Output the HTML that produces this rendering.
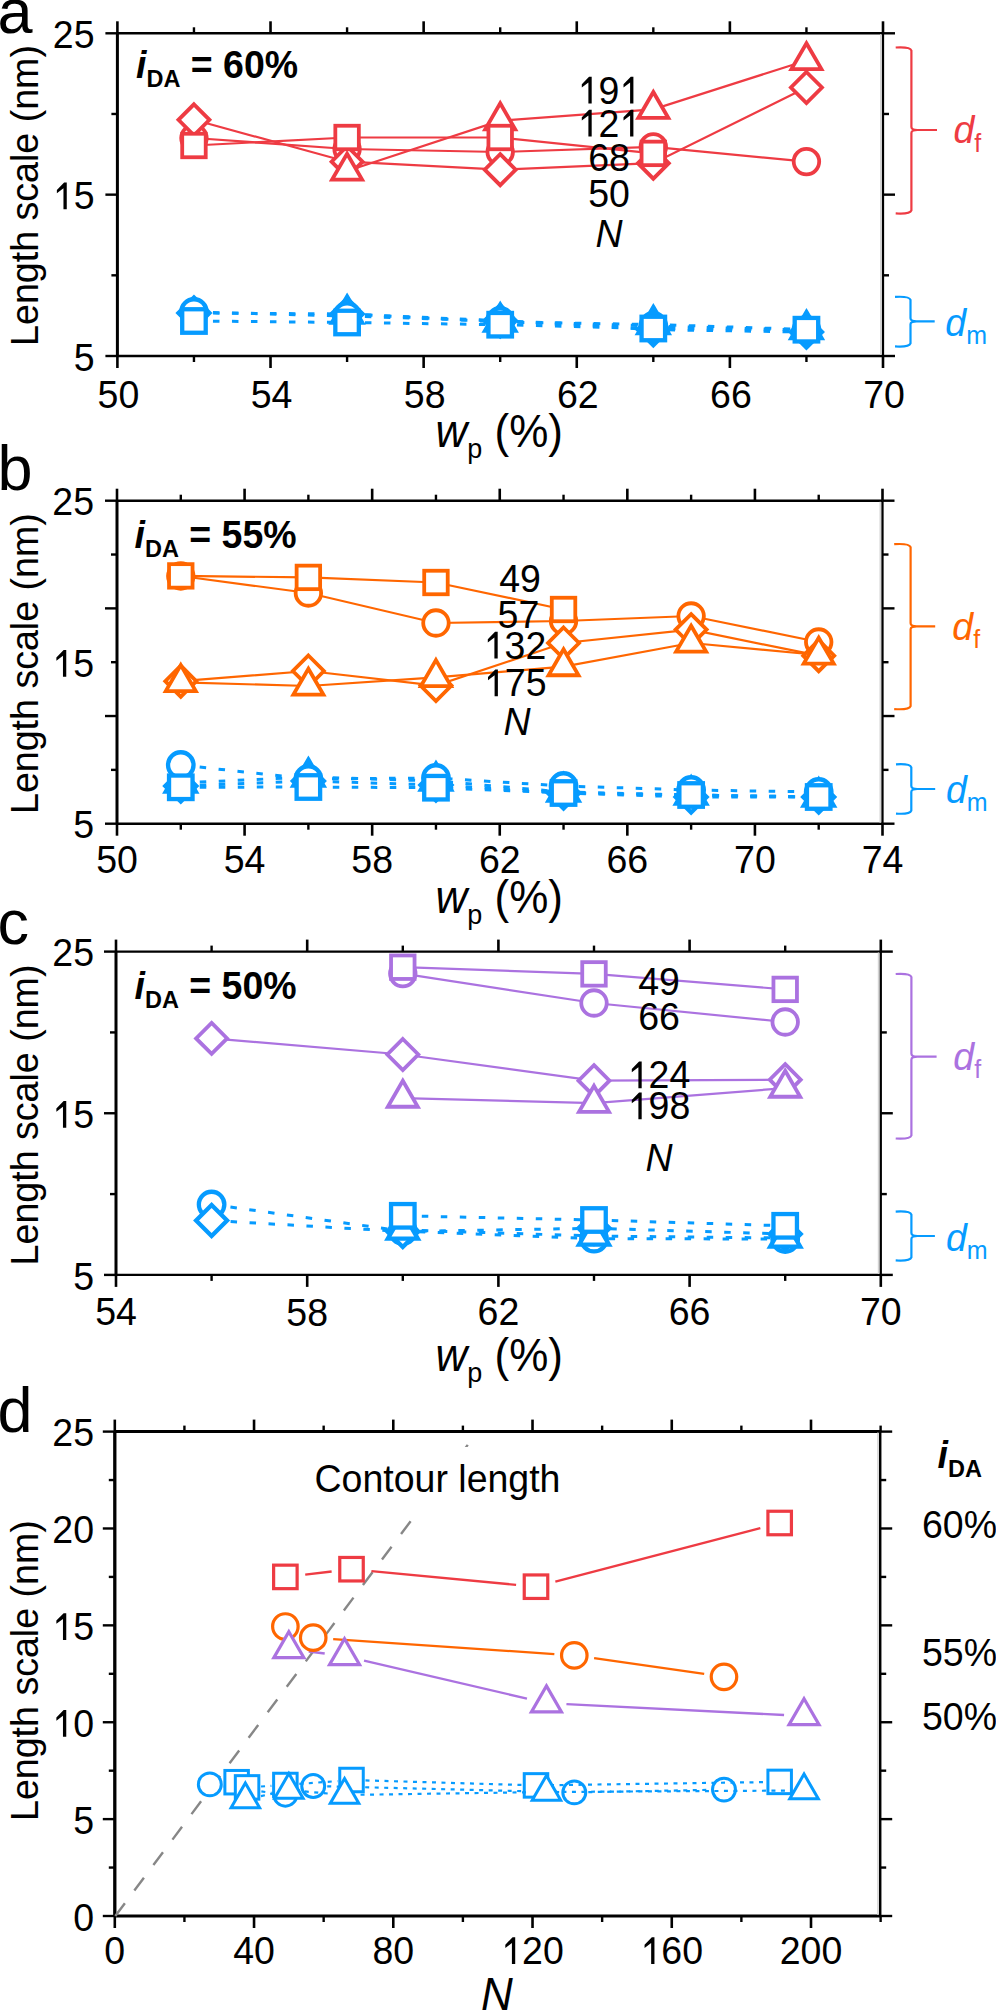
<!DOCTYPE html>
<html><head><meta charset="utf-8"><title>Length scale figure</title>
<style>
html,body{margin:0;padding:0;background:#fff;}
body{width:996px;height:2010px;overflow:hidden;font-family:"Liberation Sans", sans-serif;}
svg{display:block;}
</style></head>
<body><svg width="996" height="2010" viewBox="0 0 996 2010" font-family='"Liberation Sans", sans-serif'><rect width="996" height="2010" fill="#fff"/><line x1="117.4" y1="33.3" x2="883.0" y2="33.3" stroke="#000" stroke-width="2.4"/><line x1="117.4" y1="356.0" x2="883.0" y2="356.0" stroke="#000" stroke-width="2.4"/><line x1="117.4" y1="33.3" x2="117.4" y2="356.0" stroke="#000" stroke-width="3.0"/><line x1="880.70" y1="34.3" x2="880.70" y2="355.0" stroke="#d4d4d4" stroke-width="1.4"/><line x1="883.0" y1="33.3" x2="883.0" y2="356.0" stroke="#000" stroke-width="2.25"/><line x1="117.40" y1="356.0" x2="117.40" y2="368.0" stroke="#000" stroke-width="2.6"/><line x1="117.40" y1="33.3" x2="117.40" y2="21.299999999999997" stroke="#000" stroke-width="2.6"/><line x1="193.96" y1="356.0" x2="193.96" y2="362.0" stroke="#000" stroke-width="2.4"/><line x1="193.96" y1="33.3" x2="193.96" y2="27.299999999999997" stroke="#000" stroke-width="2.4"/><line x1="270.52" y1="356.0" x2="270.52" y2="368.0" stroke="#000" stroke-width="2.6"/><line x1="270.52" y1="33.3" x2="270.52" y2="21.299999999999997" stroke="#000" stroke-width="2.6"/><line x1="347.08" y1="356.0" x2="347.08" y2="362.0" stroke="#000" stroke-width="2.4"/><line x1="347.08" y1="33.3" x2="347.08" y2="27.299999999999997" stroke="#000" stroke-width="2.4"/><line x1="423.64" y1="356.0" x2="423.64" y2="368.0" stroke="#000" stroke-width="2.6"/><line x1="423.64" y1="33.3" x2="423.64" y2="21.299999999999997" stroke="#000" stroke-width="2.6"/><line x1="500.20" y1="356.0" x2="500.20" y2="362.0" stroke="#000" stroke-width="2.4"/><line x1="500.20" y1="33.3" x2="500.20" y2="27.299999999999997" stroke="#000" stroke-width="2.4"/><line x1="576.76" y1="356.0" x2="576.76" y2="368.0" stroke="#000" stroke-width="2.6"/><line x1="576.76" y1="33.3" x2="576.76" y2="21.299999999999997" stroke="#000" stroke-width="2.6"/><line x1="653.32" y1="356.0" x2="653.32" y2="362.0" stroke="#000" stroke-width="2.4"/><line x1="653.32" y1="33.3" x2="653.32" y2="27.299999999999997" stroke="#000" stroke-width="2.4"/><line x1="729.88" y1="356.0" x2="729.88" y2="368.0" stroke="#000" stroke-width="2.6"/><line x1="729.88" y1="33.3" x2="729.88" y2="21.299999999999997" stroke="#000" stroke-width="2.6"/><line x1="806.44" y1="356.0" x2="806.44" y2="362.0" stroke="#000" stroke-width="2.4"/><line x1="806.44" y1="33.3" x2="806.44" y2="27.299999999999997" stroke="#000" stroke-width="2.4"/><line x1="883.00" y1="356.0" x2="883.00" y2="368.0" stroke="#000" stroke-width="2.6"/><line x1="883.00" y1="33.3" x2="883.00" y2="21.299999999999997" stroke="#000" stroke-width="2.6"/><line x1="117.4" y1="356.00" x2="105.4" y2="356.00" stroke="#000" stroke-width="2.4"/><line x1="117.4" y1="275.32" x2="111.4" y2="275.32" stroke="#000" stroke-width="2.4"/><line x1="117.4" y1="194.65" x2="105.4" y2="194.65" stroke="#000" stroke-width="2.4"/><line x1="117.4" y1="113.97" x2="111.4" y2="113.97" stroke="#000" stroke-width="2.4"/><line x1="117.4" y1="33.30" x2="105.4" y2="33.30" stroke="#000" stroke-width="2.4"/><line x1="883.0" y1="356.00" x2="895.0" y2="356.00" stroke="#000" stroke-width="2.4"/><line x1="883.0" y1="275.32" x2="889.0" y2="275.32" stroke="#000" stroke-width="2.4"/><line x1="883.0" y1="194.65" x2="895.0" y2="194.65" stroke="#000" stroke-width="2.4"/><line x1="883.0" y1="113.97" x2="889.0" y2="113.97" stroke="#000" stroke-width="2.4"/><line x1="883.0" y1="33.30" x2="895.0" y2="33.30" stroke="#000" stroke-width="2.4"/><polyline points="193.96,312.00 347.08,316.00 500.20,321.00 653.32,326.00 806.44,330.00" fill="none" stroke="#069bff" stroke-width="3.0" stroke-dasharray="6.5 12.5"/><polyline points="193.96,313.00 347.08,314.00 500.20,320.80 653.32,329.60 806.44,332.00" fill="none" stroke="#069bff" stroke-width="3.0" stroke-dasharray="6.5 12.5"/><polyline points="347.08,314.00 500.20,322.00 653.32,324.50 806.44,329.50" fill="none" stroke="#069bff" stroke-width="3.0" stroke-dasharray="6.5 12.5"/><polyline points="193.96,321.00 347.08,322.50 500.20,324.70 653.32,328.50 806.44,329.70" fill="none" stroke="#069bff" stroke-width="3.0" stroke-dasharray="6.5 12.5"/><polyline points="193.96,138.00 347.08,149.00 500.20,152.00 653.32,146.90 806.44,161.60" fill="none" stroke="#ee3b43" stroke-width="2.2"/><polyline points="193.96,119.80 347.08,161.70 500.20,169.70 653.32,163.20 806.44,87.50" fill="none" stroke="#ee3b43" stroke-width="2.2"/><polyline points="347.08,171.00 500.20,120.60 653.32,109.30 806.44,60.50" fill="none" stroke="#ee3b43" stroke-width="2.2"/><polyline points="193.96,145.50 347.08,137.50 500.20,137.50 653.32,153.40" fill="none" stroke="#ee3b43" stroke-width="2.2"/><path d="M193.96 297.50L209.46 313.00L193.96 328.50L178.46 313.00Z" fill="#fff" stroke="#069bff" stroke-width="4.3"/><path d="M347.08 298.50L362.58 314.00L347.08 329.50L331.58 314.00Z" fill="#fff" stroke="#069bff" stroke-width="4.3"/><path d="M500.20 305.30L515.70 320.80L500.20 336.30L484.70 320.80Z" fill="#fff" stroke="#069bff" stroke-width="4.3"/><path d="M653.32 314.10L668.82 329.60L653.32 345.10L637.82 329.60Z" fill="#fff" stroke="#069bff" stroke-width="4.3"/><path d="M806.44 316.50L821.94 332.00L806.44 347.50L790.94 332.00Z" fill="#fff" stroke="#069bff" stroke-width="4.3"/><path d="M347.08 296.68L362.08 322.66L332.08 322.66Z" fill="#fff" stroke="#069bff" stroke-width="4.3" stroke-linejoin="miter"/><path d="M500.20 304.68L515.20 330.66L485.20 330.66Z" fill="#fff" stroke="#069bff" stroke-width="4.3" stroke-linejoin="miter"/><path d="M653.32 307.18L668.32 333.16L638.32 333.16Z" fill="#fff" stroke="#069bff" stroke-width="4.3" stroke-linejoin="miter"/><path d="M806.44 312.18L821.44 338.16L791.44 338.16Z" fill="#fff" stroke="#069bff" stroke-width="4.3" stroke-linejoin="miter"/><circle cx="193.96" cy="312.00" r="12.75" fill="#fff" stroke="#069bff" stroke-width="4.3"/><circle cx="347.08" cy="316.00" r="12.75" fill="#fff" stroke="#069bff" stroke-width="4.3"/><circle cx="500.20" cy="321.00" r="12.75" fill="#fff" stroke="#069bff" stroke-width="4.3"/><circle cx="653.32" cy="326.00" r="12.75" fill="#fff" stroke="#069bff" stroke-width="4.3"/><circle cx="806.44" cy="330.00" r="12.75" fill="#fff" stroke="#069bff" stroke-width="4.3"/><rect x="182.21" y="309.25" width="23.50" height="23.50" fill="#fff" stroke="#069bff" stroke-width="4.3"/><rect x="335.33" y="310.75" width="23.50" height="23.50" fill="#fff" stroke="#069bff" stroke-width="4.3"/><rect x="488.45" y="312.95" width="23.50" height="23.50" fill="#fff" stroke="#069bff" stroke-width="4.3"/><rect x="641.57" y="316.75" width="23.50" height="23.50" fill="#fff" stroke="#069bff" stroke-width="4.3"/><rect x="794.69" y="317.95" width="23.50" height="23.50" fill="#fff" stroke="#069bff" stroke-width="4.3"/><circle cx="193.96" cy="138.00" r="12.75" fill="#fff" stroke="#ee3b43" stroke-width="3.8"/><circle cx="347.08" cy="149.00" r="12.75" fill="#fff" stroke="#ee3b43" stroke-width="3.8"/><circle cx="500.20" cy="152.00" r="12.75" fill="#fff" stroke="#ee3b43" stroke-width="3.8"/><circle cx="653.32" cy="146.90" r="12.75" fill="#fff" stroke="#ee3b43" stroke-width="3.8"/><circle cx="806.44" cy="161.60" r="12.75" fill="#fff" stroke="#ee3b43" stroke-width="3.8"/><path d="M193.96 104.30L209.46 119.80L193.96 135.30L178.46 119.80Z" fill="#fff" stroke="#ee3b43" stroke-width="3.8"/><path d="M347.08 146.20L362.58 161.70L347.08 177.20L331.58 161.70Z" fill="#fff" stroke="#ee3b43" stroke-width="3.8"/><path d="M500.20 154.20L515.70 169.70L500.20 185.20L484.70 169.70Z" fill="#fff" stroke="#ee3b43" stroke-width="3.8"/><path d="M653.32 147.70L668.82 163.20L653.32 178.70L637.82 163.20Z" fill="#fff" stroke="#ee3b43" stroke-width="3.8"/><path d="M806.44 72.00L821.94 87.50L806.44 103.00L790.94 87.50Z" fill="#fff" stroke="#ee3b43" stroke-width="3.8"/><path d="M347.08 153.68L362.08 179.66L332.08 179.66Z" fill="#fff" stroke="#ee3b43" stroke-width="3.8" stroke-linejoin="miter"/><path d="M500.20 103.28L515.20 129.26L485.20 129.26Z" fill="#fff" stroke="#ee3b43" stroke-width="3.8" stroke-linejoin="miter"/><path d="M653.32 91.98L668.32 117.96L638.32 117.96Z" fill="#fff" stroke="#ee3b43" stroke-width="3.8" stroke-linejoin="miter"/><path d="M806.44 43.18L821.44 69.16L791.44 69.16Z" fill="#fff" stroke="#ee3b43" stroke-width="3.8" stroke-linejoin="miter"/><rect x="182.21" y="133.75" width="23.50" height="23.50" fill="#fff" stroke="#ee3b43" stroke-width="3.8"/><rect x="335.33" y="125.75" width="23.50" height="23.50" fill="#fff" stroke="#ee3b43" stroke-width="3.8"/><rect x="488.45" y="125.75" width="23.50" height="23.50" fill="#fff" stroke="#ee3b43" stroke-width="3.8"/><rect x="641.57" y="141.65" width="23.50" height="23.50" fill="#fff" stroke="#ee3b43" stroke-width="3.8"/><text transform="translate(-2.50,33.00) scale(1,1.0)" font-size="63" text-anchor="start" fill="#000">a</text><text transform="translate(94.50,47.90) scale(1,1.04)" font-size="37.5" text-anchor="end" fill="#000">25</text><g transform="translate(94.50,209.25) scale(1,1.04)"><text font-size="37.5" text-anchor="end" fill="#000"> 5</text><path transform="translate(-41.71,0) scale(0.01831,-0.01831)" d="M583 0L583 1102L223 846L223 1016L620 1409L763 1409L763 0Z" fill="#000"/></g><text transform="translate(94.50,370.60) scale(1,1.04)" font-size="37.5" text-anchor="end" fill="#000">5</text><text transform="translate(118.40,407.80) scale(1,1.04)" font-size="37.5" text-anchor="middle" fill="#000">50</text><text transform="translate(271.52,407.80) scale(1,1.04)" font-size="37.5" text-anchor="middle" fill="#000">54</text><text transform="translate(424.64,407.80) scale(1,1.04)" font-size="37.5" text-anchor="middle" fill="#000">58</text><text transform="translate(577.76,407.80) scale(1,1.04)" font-size="37.5" text-anchor="middle" fill="#000">62</text><text transform="translate(730.88,407.80) scale(1,1.04)" font-size="37.5" text-anchor="middle" fill="#000">66</text><text transform="translate(884.00,407.80) scale(1,1.04)" font-size="37.5" text-anchor="middle" fill="#000">70</text><text transform="translate(435.50,447.40) scale(1,1.04)" font-size="44"><tspan font-style="italic">w</tspan><tspan font-size="27" dy="10.5">p</tspan><tspan dy="-10.5"> (%)</tspan></text><text transform="translate(37.80,195.50) rotate(-90) scale(1,1.04)" font-size="37.6" text-anchor="middle">Length scale (nm)</text><text transform="translate(136.00,78.30) scale(1,1.04)" font-size="37.5" font-weight="bold"><tspan font-style="italic">i</tspan><tspan font-size="23.5" dy="8.5">DA</tspan><tspan dy="-8.5"> = 60%</tspan></text><g transform="translate(609.00,103.60) scale(1,1.04)"><text font-size="37.5" text-anchor="middle" fill="#000"> 9 </text><path transform="translate(-31.28,0) scale(0.01831,-0.01831)" d="M583 0L583 1102L223 846L223 1016L620 1409L763 1409L763 0Z" fill="#000"/><path transform="translate(10.43,0) scale(0.01831,-0.01831)" d="M583 0L583 1102L223 846L223 1016L620 1409L763 1409L763 0Z" fill="#000"/></g><g transform="translate(609.00,136.60) scale(1,1.04)"><text font-size="37.5" text-anchor="middle" fill="#000"> 2 </text><path transform="translate(-31.28,0) scale(0.01831,-0.01831)" d="M583 0L583 1102L223 846L223 1016L620 1409L763 1409L763 0Z" fill="#000"/><path transform="translate(10.43,0) scale(0.01831,-0.01831)" d="M583 0L583 1102L223 846L223 1016L620 1409L763 1409L763 0Z" fill="#000"/></g><text transform="translate(609.00,171.00) scale(1,1.04)" font-size="37.5" text-anchor="middle" fill="#000">68</text><text transform="translate(609.00,206.50) scale(1,1.04)" font-size="37.5" text-anchor="middle" fill="#000">50</text><text transform="translate(609.00,246.70) scale(1,1.04)" font-size="37.5" text-anchor="middle" font-style="italic" fill="#000">N</text><path d="M895.7 47.5 C903.7 47.0 910.4 47.5 911.4 50.5 L911.4 127.0 C911.4 129.0 913.4 130.0 917.4 130.0 L937.0 130.0 M917.4 130.0 C913.4 130.0 911.4 131.0 911.4 133.0 L911.4 210.4 C910.4 213.4 903.7 213.9 895.7 213.4" fill="none" stroke="#ee3b43" stroke-width="2.2"/><text transform="translate(953.50,143.40) scale(1,1.04)" font-size="37.5" fill="#ee3b43"><tspan font-style="italic">d</tspan><tspan font-size="25" dy="8">f</tspan></text><path d="M895.0 296.9 C903.0 296.4 909.5 296.9 910.5 299.9 L910.5 318.3 C910.5 320.3 912.5 321.3 916.5 321.3 L934.7 321.3 M916.5 321.3 C912.5 321.3 910.5 322.3 910.5 324.3 L910.5 343.4 C909.5 346.4 903.0 346.9 895.0 346.4" fill="none" stroke="#069bff" stroke-width="2.2"/><text transform="translate(945.30,335.70) scale(1,1.04)" font-size="37.5" fill="#069bff"><tspan font-style="italic">d</tspan><tspan font-size="25" dy="8">m</tspan></text><line x1="117.0" y1="500.7" x2="882.5" y2="500.7" stroke="#000" stroke-width="2.4"/><line x1="117.0" y1="823.7" x2="882.5" y2="823.7" stroke="#000" stroke-width="2.4"/><line x1="117.0" y1="500.7" x2="117.0" y2="823.7" stroke="#000" stroke-width="3.0"/><line x1="880.20" y1="501.7" x2="880.20" y2="822.7" stroke="#d4d4d4" stroke-width="1.4"/><line x1="882.5" y1="500.7" x2="882.5" y2="823.7" stroke="#000" stroke-width="2.25"/><line x1="117.00" y1="823.7" x2="117.00" y2="835.7" stroke="#000" stroke-width="2.6"/><line x1="117.00" y1="500.7" x2="117.00" y2="488.7" stroke="#000" stroke-width="2.6"/><line x1="180.79" y1="823.7" x2="180.79" y2="829.7" stroke="#000" stroke-width="2.4"/><line x1="180.79" y1="500.7" x2="180.79" y2="494.7" stroke="#000" stroke-width="2.4"/><line x1="244.58" y1="823.7" x2="244.58" y2="835.7" stroke="#000" stroke-width="2.6"/><line x1="244.58" y1="500.7" x2="244.58" y2="488.7" stroke="#000" stroke-width="2.6"/><line x1="308.38" y1="823.7" x2="308.38" y2="829.7" stroke="#000" stroke-width="2.4"/><line x1="308.38" y1="500.7" x2="308.38" y2="494.7" stroke="#000" stroke-width="2.4"/><line x1="372.17" y1="823.7" x2="372.17" y2="835.7" stroke="#000" stroke-width="2.6"/><line x1="372.17" y1="500.7" x2="372.17" y2="488.7" stroke="#000" stroke-width="2.6"/><line x1="435.96" y1="823.7" x2="435.96" y2="829.7" stroke="#000" stroke-width="2.4"/><line x1="435.96" y1="500.7" x2="435.96" y2="494.7" stroke="#000" stroke-width="2.4"/><line x1="499.75" y1="823.7" x2="499.75" y2="835.7" stroke="#000" stroke-width="2.6"/><line x1="499.75" y1="500.7" x2="499.75" y2="488.7" stroke="#000" stroke-width="2.6"/><line x1="563.54" y1="823.7" x2="563.54" y2="829.7" stroke="#000" stroke-width="2.4"/><line x1="563.54" y1="500.7" x2="563.54" y2="494.7" stroke="#000" stroke-width="2.4"/><line x1="627.33" y1="823.7" x2="627.33" y2="835.7" stroke="#000" stroke-width="2.6"/><line x1="627.33" y1="500.7" x2="627.33" y2="488.7" stroke="#000" stroke-width="2.6"/><line x1="691.12" y1="823.7" x2="691.12" y2="829.7" stroke="#000" stroke-width="2.4"/><line x1="691.12" y1="500.7" x2="691.12" y2="494.7" stroke="#000" stroke-width="2.4"/><line x1="754.92" y1="823.7" x2="754.92" y2="835.7" stroke="#000" stroke-width="2.6"/><line x1="754.92" y1="500.7" x2="754.92" y2="488.7" stroke="#000" stroke-width="2.6"/><line x1="818.71" y1="823.7" x2="818.71" y2="829.7" stroke="#000" stroke-width="2.4"/><line x1="818.71" y1="500.7" x2="818.71" y2="494.7" stroke="#000" stroke-width="2.4"/><line x1="882.50" y1="823.7" x2="882.50" y2="835.7" stroke="#000" stroke-width="2.6"/><line x1="882.50" y1="500.7" x2="882.50" y2="488.7" stroke="#000" stroke-width="2.6"/><line x1="117.0" y1="500.70" x2="105.0" y2="500.70" stroke="#000" stroke-width="2.4"/><line x1="117.0" y1="554.53" x2="111.0" y2="554.53" stroke="#000" stroke-width="2.4"/><line x1="117.0" y1="608.37" x2="105.0" y2="608.37" stroke="#000" stroke-width="2.4"/><line x1="117.0" y1="662.20" x2="111.0" y2="662.20" stroke="#000" stroke-width="2.4"/><line x1="117.0" y1="716.03" x2="105.0" y2="716.03" stroke="#000" stroke-width="2.4"/><line x1="117.0" y1="769.87" x2="111.0" y2="769.87" stroke="#000" stroke-width="2.4"/><line x1="117.0" y1="823.70" x2="105.0" y2="823.70" stroke="#000" stroke-width="2.4"/><line x1="882.5" y1="500.70" x2="894.5" y2="500.70" stroke="#000" stroke-width="2.4"/><line x1="882.5" y1="554.53" x2="888.5" y2="554.53" stroke="#000" stroke-width="2.4"/><line x1="882.5" y1="608.37" x2="894.5" y2="608.37" stroke="#000" stroke-width="2.4"/><line x1="882.5" y1="662.20" x2="888.5" y2="662.20" stroke="#000" stroke-width="2.4"/><line x1="882.5" y1="716.03" x2="894.5" y2="716.03" stroke="#000" stroke-width="2.4"/><line x1="882.5" y1="769.87" x2="888.5" y2="769.87" stroke="#000" stroke-width="2.4"/><line x1="882.5" y1="823.70" x2="894.5" y2="823.70" stroke="#000" stroke-width="2.4"/><polyline points="180.79,765.00 308.38,779.00 435.96,778.00 563.54,786.00 691.12,790.00 818.71,792.00" fill="none" stroke="#069bff" stroke-width="3.0" stroke-dasharray="6.5 12.5"/><polyline points="180.79,786.00 308.38,781.00 435.96,785.00 563.54,793.00 691.12,797.00 818.71,797.00" fill="none" stroke="#069bff" stroke-width="3.0" stroke-dasharray="6.5 12.5"/><polyline points="180.79,783.00 308.38,777.00 435.96,781.00 563.54,792.00 691.12,795.00 818.71,797.00" fill="none" stroke="#069bff" stroke-width="3.0" stroke-dasharray="6.5 12.5"/><polyline points="180.79,787.30 308.38,787.00 435.96,787.70 563.54,793.00 691.12,795.00 818.71,797.00" fill="none" stroke="#069bff" stroke-width="3.0" stroke-dasharray="6.5 12.5"/><polyline points="180.79,576.00 308.38,593.00 435.96,623.00 563.54,621.00 691.12,616.00 818.71,642.00" fill="none" stroke="#ff6600" stroke-width="2.2"/><polyline points="180.79,681.20 308.38,671.00 435.96,685.60 563.54,643.00 691.12,629.60 818.71,655.70" fill="none" stroke="#ff6600" stroke-width="2.2"/><polyline points="180.79,682.40 308.38,686.00 435.96,677.40 563.54,666.60 691.12,643.00 818.71,655.00" fill="none" stroke="#ff6600" stroke-width="2.2"/><polyline points="180.79,575.90 308.38,577.40 435.96,582.50 563.54,609.50" fill="none" stroke="#ff6600" stroke-width="2.2"/><path d="M180.79 770.50L196.29 786.00L180.79 801.50L165.29 786.00Z" fill="#fff" stroke="#069bff" stroke-width="4.3"/><path d="M308.38 765.50L323.88 781.00L308.38 796.50L292.88 781.00Z" fill="#fff" stroke="#069bff" stroke-width="4.3"/><path d="M435.96 769.50L451.46 785.00L435.96 800.50L420.46 785.00Z" fill="#fff" stroke="#069bff" stroke-width="4.3"/><path d="M563.54 777.50L579.04 793.00L563.54 808.50L548.04 793.00Z" fill="#fff" stroke="#069bff" stroke-width="4.3"/><path d="M691.12 781.50L706.62 797.00L691.12 812.50L675.62 797.00Z" fill="#fff" stroke="#069bff" stroke-width="4.3"/><path d="M818.71 781.50L834.21 797.00L818.71 812.50L803.21 797.00Z" fill="#fff" stroke="#069bff" stroke-width="4.3"/><path d="M180.79 765.68L195.79 791.66L165.79 791.66Z" fill="#fff" stroke="#069bff" stroke-width="4.3" stroke-linejoin="miter"/><path d="M308.38 759.68L323.38 785.66L293.38 785.66Z" fill="#fff" stroke="#069bff" stroke-width="4.3" stroke-linejoin="miter"/><path d="M435.96 763.68L450.96 789.66L420.96 789.66Z" fill="#fff" stroke="#069bff" stroke-width="4.3" stroke-linejoin="miter"/><path d="M563.54 774.68L578.54 800.66L548.54 800.66Z" fill="#fff" stroke="#069bff" stroke-width="4.3" stroke-linejoin="miter"/><path d="M691.12 777.68L706.12 803.66L676.12 803.66Z" fill="#fff" stroke="#069bff" stroke-width="4.3" stroke-linejoin="miter"/><path d="M818.71 779.68L833.71 805.66L803.71 805.66Z" fill="#fff" stroke="#069bff" stroke-width="4.3" stroke-linejoin="miter"/><circle cx="180.79" cy="765.00" r="12.75" fill="#fff" stroke="#069bff" stroke-width="4.3"/><circle cx="308.38" cy="779.00" r="12.75" fill="#fff" stroke="#069bff" stroke-width="4.3"/><circle cx="435.96" cy="778.00" r="12.75" fill="#fff" stroke="#069bff" stroke-width="4.3"/><circle cx="563.54" cy="786.00" r="12.75" fill="#fff" stroke="#069bff" stroke-width="4.3"/><circle cx="691.12" cy="790.00" r="12.75" fill="#fff" stroke="#069bff" stroke-width="4.3"/><circle cx="818.71" cy="792.00" r="12.75" fill="#fff" stroke="#069bff" stroke-width="4.3"/><rect x="169.04" y="775.55" width="23.50" height="23.50" fill="#fff" stroke="#069bff" stroke-width="4.3"/><rect x="296.62" y="775.25" width="23.50" height="23.50" fill="#fff" stroke="#069bff" stroke-width="4.3"/><rect x="424.21" y="775.95" width="23.50" height="23.50" fill="#fff" stroke="#069bff" stroke-width="4.3"/><rect x="551.79" y="781.25" width="23.50" height="23.50" fill="#fff" stroke="#069bff" stroke-width="4.3"/><rect x="679.38" y="783.25" width="23.50" height="23.50" fill="#fff" stroke="#069bff" stroke-width="4.3"/><rect x="806.96" y="785.25" width="23.50" height="23.50" fill="#fff" stroke="#069bff" stroke-width="4.3"/><circle cx="180.79" cy="576.00" r="12.75" fill="#fff" stroke="#ff6600" stroke-width="3.8"/><circle cx="308.38" cy="593.00" r="12.75" fill="#fff" stroke="#ff6600" stroke-width="3.8"/><circle cx="435.96" cy="623.00" r="12.75" fill="#fff" stroke="#ff6600" stroke-width="3.8"/><circle cx="563.54" cy="621.00" r="12.75" fill="#fff" stroke="#ff6600" stroke-width="3.8"/><circle cx="691.12" cy="616.00" r="12.75" fill="#fff" stroke="#ff6600" stroke-width="3.8"/><circle cx="818.71" cy="642.00" r="12.75" fill="#fff" stroke="#ff6600" stroke-width="3.8"/><path d="M180.79 665.70L196.29 681.20L180.79 696.70L165.29 681.20Z" fill="#fff" stroke="#ff6600" stroke-width="3.8"/><path d="M308.38 655.50L323.88 671.00L308.38 686.50L292.88 671.00Z" fill="#fff" stroke="#ff6600" stroke-width="3.8"/><path d="M435.96 670.10L451.46 685.60L435.96 701.10L420.46 685.60Z" fill="#fff" stroke="#ff6600" stroke-width="3.8"/><path d="M563.54 627.50L579.04 643.00L563.54 658.50L548.04 643.00Z" fill="#fff" stroke="#ff6600" stroke-width="3.8"/><path d="M691.12 614.10L706.62 629.60L691.12 645.10L675.62 629.60Z" fill="#fff" stroke="#ff6600" stroke-width="3.8"/><path d="M818.71 640.20L834.21 655.70L818.71 671.20L803.21 655.70Z" fill="#fff" stroke="#ff6600" stroke-width="3.8"/><path d="M180.79 665.08L195.79 691.06L165.79 691.06Z" fill="#fff" stroke="#ff6600" stroke-width="3.8" stroke-linejoin="miter"/><path d="M308.38 668.68L323.38 694.66L293.38 694.66Z" fill="#fff" stroke="#ff6600" stroke-width="3.8" stroke-linejoin="miter"/><path d="M435.96 660.08L450.96 686.06L420.96 686.06Z" fill="#fff" stroke="#ff6600" stroke-width="3.8" stroke-linejoin="miter"/><path d="M563.54 649.28L578.54 675.26L548.54 675.26Z" fill="#fff" stroke="#ff6600" stroke-width="3.8" stroke-linejoin="miter"/><path d="M691.12 625.68L706.12 651.66L676.12 651.66Z" fill="#fff" stroke="#ff6600" stroke-width="3.8" stroke-linejoin="miter"/><path d="M818.71 637.68L833.71 663.66L803.71 663.66Z" fill="#fff" stroke="#ff6600" stroke-width="3.8" stroke-linejoin="miter"/><rect x="169.04" y="564.15" width="23.50" height="23.50" fill="#fff" stroke="#ff6600" stroke-width="3.8"/><rect x="296.62" y="565.65" width="23.50" height="23.50" fill="#fff" stroke="#ff6600" stroke-width="3.8"/><rect x="424.21" y="570.75" width="23.50" height="23.50" fill="#fff" stroke="#ff6600" stroke-width="3.8"/><rect x="551.79" y="597.75" width="23.50" height="23.50" fill="#fff" stroke="#ff6600" stroke-width="3.8"/><text transform="translate(-2.50,490.00) scale(1,1.0)" font-size="63" text-anchor="start" fill="#000">b</text><text transform="translate(94.00,515.30) scale(1,1.04)" font-size="37.5" text-anchor="end" fill="#000">25</text><g transform="translate(94.00,676.80) scale(1,1.04)"><text font-size="37.5" text-anchor="end" fill="#000"> 5</text><path transform="translate(-41.71,0) scale(0.01831,-0.01831)" d="M583 0L583 1102L223 846L223 1016L620 1409L763 1409L763 0Z" fill="#000"/></g><text transform="translate(94.00,838.30) scale(1,1.04)" font-size="37.5" text-anchor="end" fill="#000">5</text><text transform="translate(117.00,873.00) scale(1,1.04)" font-size="37.5" text-anchor="middle" fill="#000">50</text><text transform="translate(244.58,873.00) scale(1,1.04)" font-size="37.5" text-anchor="middle" fill="#000">54</text><text transform="translate(372.17,873.00) scale(1,1.04)" font-size="37.5" text-anchor="middle" fill="#000">58</text><text transform="translate(499.75,873.00) scale(1,1.04)" font-size="37.5" text-anchor="middle" fill="#000">62</text><text transform="translate(627.33,873.00) scale(1,1.04)" font-size="37.5" text-anchor="middle" fill="#000">66</text><text transform="translate(754.92,873.00) scale(1,1.04)" font-size="37.5" text-anchor="middle" fill="#000">70</text><text transform="translate(882.50,873.00) scale(1,1.04)" font-size="37.5" text-anchor="middle" fill="#000">74</text><text transform="translate(435.50,913.00) scale(1,1.04)" font-size="44"><tspan font-style="italic">w</tspan><tspan font-size="27" dy="10.5">p</tspan><tspan dy="-10.5"> (%)</tspan></text><text transform="translate(37.80,663.60) rotate(-90) scale(1,1.04)" font-size="37.6" text-anchor="middle">Length scale (nm)</text><text transform="translate(134.50,548.00) scale(1,1.04)" font-size="37.5" font-weight="bold"><tspan font-style="italic">i</tspan><tspan font-size="23.5" dy="8.5">DA</tspan><tspan dy="-8.5"> = 55%</tspan></text><text transform="translate(520.00,592.00) scale(1,1.04)" font-size="37.5" text-anchor="middle" fill="#000">49</text><text transform="translate(518.40,627.50) scale(1,1.04)" font-size="37.5" text-anchor="middle" fill="#000">57</text><g transform="translate(515.00,658.60) scale(1,1.04)"><text font-size="37.5" text-anchor="middle" fill="#000"> 32</text><path transform="translate(-31.28,0) scale(0.01831,-0.01831)" d="M583 0L583 1102L223 846L223 1016L620 1409L763 1409L763 0Z" fill="#000"/></g><g transform="translate(515.20,696.30) scale(1,1.04)"><text font-size="37.5" text-anchor="middle" fill="#000"> 75</text><path transform="translate(-31.28,0) scale(0.01831,-0.01831)" d="M583 0L583 1102L223 846L223 1016L620 1409L763 1409L763 0Z" fill="#000"/></g><text transform="translate(517.00,735.00) scale(1,1.04)" font-size="37.5" text-anchor="middle" font-style="italic" fill="#000">N</text><path d="M894.2 544.2 C902.2 543.7 909.6 544.2 910.6 547.2 L910.6 623.3 C910.6 625.3 912.6 626.3 916.6 626.3 L935.2 626.3 M916.6 626.3 C912.6 626.3 910.6 627.3 910.6 629.3 L910.6 706.1 C909.6 709.1 902.2 709.6 894.2 709.1" fill="none" stroke="#ff6600" stroke-width="2.2"/><text transform="translate(952.30,639.50) scale(1,1.04)" font-size="37.5" fill="#ff6600"><tspan font-style="italic">d</tspan><tspan font-size="25" dy="8">f</tspan></text><path d="M896.0 764.3 C904.0 763.8 910.3 764.3 911.3 767.3 L911.3 786.0 C911.3 788.0 913.3 789.0 917.3 789.0 L935.2 789.0 M917.3 789.0 C913.3 789.0 911.3 790.0 911.3 792.0 L911.3 810.6 C910.3 813.6 904.0 814.1 896.0 813.6" fill="none" stroke="#069bff" stroke-width="2.2"/><text transform="translate(946.00,802.90) scale(1,1.04)" font-size="37.5" fill="#069bff"><tspan font-style="italic">d</tspan><tspan font-size="25" dy="8">m</tspan></text><line x1="116.0" y1="951.6" x2="880.8" y2="951.6" stroke="#000" stroke-width="2.4"/><line x1="116.0" y1="1274.9" x2="880.8" y2="1274.9" stroke="#000" stroke-width="2.4"/><line x1="116.0" y1="951.6" x2="116.0" y2="1274.9" stroke="#000" stroke-width="3.0"/><line x1="878.50" y1="952.6" x2="878.50" y2="1273.9" stroke="#d4d4d4" stroke-width="1.4"/><line x1="880.8" y1="951.6" x2="880.8" y2="1274.9" stroke="#000" stroke-width="2.25"/><line x1="116.00" y1="1274.9" x2="116.00" y2="1286.9" stroke="#000" stroke-width="2.6"/><line x1="116.00" y1="951.6" x2="116.00" y2="939.6" stroke="#000" stroke-width="2.6"/><line x1="211.60" y1="1274.9" x2="211.60" y2="1280.9" stroke="#000" stroke-width="2.4"/><line x1="211.60" y1="951.6" x2="211.60" y2="945.6" stroke="#000" stroke-width="2.4"/><line x1="307.20" y1="1274.9" x2="307.20" y2="1286.9" stroke="#000" stroke-width="2.6"/><line x1="307.20" y1="951.6" x2="307.20" y2="939.6" stroke="#000" stroke-width="2.6"/><line x1="402.80" y1="1274.9" x2="402.80" y2="1280.9" stroke="#000" stroke-width="2.4"/><line x1="402.80" y1="951.6" x2="402.80" y2="945.6" stroke="#000" stroke-width="2.4"/><line x1="498.40" y1="1274.9" x2="498.40" y2="1286.9" stroke="#000" stroke-width="2.6"/><line x1="498.40" y1="951.6" x2="498.40" y2="939.6" stroke="#000" stroke-width="2.6"/><line x1="594.00" y1="1274.9" x2="594.00" y2="1280.9" stroke="#000" stroke-width="2.4"/><line x1="594.00" y1="951.6" x2="594.00" y2="945.6" stroke="#000" stroke-width="2.4"/><line x1="689.60" y1="1274.9" x2="689.60" y2="1286.9" stroke="#000" stroke-width="2.6"/><line x1="689.60" y1="951.6" x2="689.60" y2="939.6" stroke="#000" stroke-width="2.6"/><line x1="785.20" y1="1274.9" x2="785.20" y2="1280.9" stroke="#000" stroke-width="2.4"/><line x1="785.20" y1="951.6" x2="785.20" y2="945.6" stroke="#000" stroke-width="2.4"/><line x1="880.80" y1="1274.9" x2="880.80" y2="1286.9" stroke="#000" stroke-width="2.6"/><line x1="880.80" y1="951.6" x2="880.80" y2="939.6" stroke="#000" stroke-width="2.6"/><line x1="116.0" y1="1274.90" x2="104.0" y2="1274.90" stroke="#000" stroke-width="2.4"/><line x1="116.0" y1="1194.08" x2="110.0" y2="1194.08" stroke="#000" stroke-width="2.4"/><line x1="116.0" y1="1113.25" x2="104.0" y2="1113.25" stroke="#000" stroke-width="2.4"/><line x1="116.0" y1="1032.42" x2="110.0" y2="1032.42" stroke="#000" stroke-width="2.4"/><line x1="116.0" y1="951.60" x2="104.0" y2="951.60" stroke="#000" stroke-width="2.4"/><line x1="880.8" y1="1274.90" x2="892.8" y2="1274.90" stroke="#000" stroke-width="2.4"/><line x1="880.8" y1="1194.08" x2="886.8" y2="1194.08" stroke="#000" stroke-width="2.4"/><line x1="880.8" y1="1113.25" x2="892.8" y2="1113.25" stroke="#000" stroke-width="2.4"/><line x1="880.8" y1="1032.42" x2="886.8" y2="1032.42" stroke="#000" stroke-width="2.4"/><line x1="880.8" y1="951.60" x2="892.8" y2="951.60" stroke="#000" stroke-width="2.4"/><polyline points="211.60,1204.50 402.80,1231.00 594.00,1238.70 785.20,1239.00" fill="none" stroke="#069bff" stroke-width="3.0" stroke-dasharray="6.5 12.5"/><polyline points="211.60,1220.50 402.80,1231.50 594.00,1228.30 785.20,1234.00" fill="none" stroke="#069bff" stroke-width="3.0" stroke-dasharray="6.5 12.5"/><polyline points="402.80,1230.00 594.00,1236.00 785.20,1238.00" fill="none" stroke="#069bff" stroke-width="3.0" stroke-dasharray="6.5 12.5"/><polyline points="402.80,1215.80 594.00,1220.00 785.20,1225.80" fill="none" stroke="#069bff" stroke-width="3.0" stroke-dasharray="6.5 12.5"/><polyline points="402.80,973.60 594.00,1003.00 785.20,1022.00" fill="none" stroke="#ab72e0" stroke-width="2.2"/><polyline points="211.60,1038.40 402.80,1054.50 594.00,1080.70 785.20,1079.70" fill="none" stroke="#ab72e0" stroke-width="2.2"/><polyline points="402.80,1098.10 594.00,1103.20 785.20,1088.10" fill="none" stroke="#ab72e0" stroke-width="2.2"/><polyline points="402.80,967.20 594.00,973.90 785.20,989.40" fill="none" stroke="#ab72e0" stroke-width="2.2"/><circle cx="211.60" cy="1204.50" r="12.75" fill="#fff" stroke="#069bff" stroke-width="4.3"/><circle cx="402.80" cy="1231.00" r="12.75" fill="#fff" stroke="#069bff" stroke-width="4.3"/><circle cx="594.00" cy="1238.70" r="12.75" fill="#fff" stroke="#069bff" stroke-width="4.3"/><circle cx="785.20" cy="1239.00" r="12.75" fill="#fff" stroke="#069bff" stroke-width="4.3"/><path d="M211.60 1205.00L227.10 1220.50L211.60 1236.00L196.10 1220.50Z" fill="#fff" stroke="#069bff" stroke-width="4.3"/><path d="M402.80 1216.00L418.30 1231.50L402.80 1247.00L387.30 1231.50Z" fill="#fff" stroke="#069bff" stroke-width="4.3"/><path d="M594.00 1212.80L609.50 1228.30L594.00 1243.80L578.50 1228.30Z" fill="#fff" stroke="#069bff" stroke-width="4.3"/><path d="M785.20 1218.50L800.70 1234.00L785.20 1249.50L769.70 1234.00Z" fill="#fff" stroke="#069bff" stroke-width="4.3"/><path d="M402.80 1212.68L417.80 1238.66L387.80 1238.66Z" fill="#fff" stroke="#069bff" stroke-width="4.3" stroke-linejoin="miter"/><path d="M594.00 1218.68L609.00 1244.66L579.00 1244.66Z" fill="#fff" stroke="#069bff" stroke-width="4.3" stroke-linejoin="miter"/><path d="M785.20 1220.68L800.20 1246.66L770.20 1246.66Z" fill="#fff" stroke="#069bff" stroke-width="4.3" stroke-linejoin="miter"/><rect x="391.05" y="1204.05" width="23.50" height="23.50" fill="#fff" stroke="#069bff" stroke-width="4.3"/><rect x="582.25" y="1208.25" width="23.50" height="23.50" fill="#fff" stroke="#069bff" stroke-width="4.3"/><rect x="773.45" y="1214.05" width="23.50" height="23.50" fill="#fff" stroke="#069bff" stroke-width="4.3"/><circle cx="402.80" cy="973.60" r="12.75" fill="#fff" stroke="#ab72e0" stroke-width="3.8"/><circle cx="594.00" cy="1003.00" r="12.75" fill="#fff" stroke="#ab72e0" stroke-width="3.8"/><circle cx="785.20" cy="1022.00" r="12.75" fill="#fff" stroke="#ab72e0" stroke-width="3.8"/><path d="M211.60 1022.90L227.10 1038.40L211.60 1053.90L196.10 1038.40Z" fill="#fff" stroke="#ab72e0" stroke-width="3.8"/><path d="M402.80 1039.00L418.30 1054.50L402.80 1070.00L387.30 1054.50Z" fill="#fff" stroke="#ab72e0" stroke-width="3.8"/><path d="M594.00 1065.20L609.50 1080.70L594.00 1096.20L578.50 1080.70Z" fill="#fff" stroke="#ab72e0" stroke-width="3.8"/><path d="M785.20 1064.20L800.70 1079.70L785.20 1095.20L769.70 1079.70Z" fill="#fff" stroke="#ab72e0" stroke-width="3.8"/><path d="M402.80 1080.78L417.80 1106.76L387.80 1106.76Z" fill="#fff" stroke="#ab72e0" stroke-width="3.8" stroke-linejoin="miter"/><path d="M594.00 1085.88L609.00 1111.86L579.00 1111.86Z" fill="#fff" stroke="#ab72e0" stroke-width="3.8" stroke-linejoin="miter"/><path d="M785.20 1070.78L800.20 1096.76L770.20 1096.76Z" fill="#fff" stroke="#ab72e0" stroke-width="3.8" stroke-linejoin="miter"/><rect x="391.05" y="955.45" width="23.50" height="23.50" fill="#fff" stroke="#ab72e0" stroke-width="3.8"/><rect x="582.25" y="962.15" width="23.50" height="23.50" fill="#fff" stroke="#ab72e0" stroke-width="3.8"/><rect x="773.45" y="977.65" width="23.50" height="23.50" fill="#fff" stroke="#ab72e0" stroke-width="3.8"/><text transform="translate(-2.40,944.00) scale(1,1.0)" font-size="63" text-anchor="start" fill="#000">c</text><text transform="translate(94.00,966.20) scale(1,1.04)" font-size="37.5" text-anchor="end" fill="#000">25</text><g transform="translate(94.00,1127.85) scale(1,1.04)"><text font-size="37.5" text-anchor="end" fill="#000"> 5</text><path transform="translate(-41.71,0) scale(0.01831,-0.01831)" d="M583 0L583 1102L223 846L223 1016L620 1409L763 1409L763 0Z" fill="#000"/></g><text transform="translate(94.00,1289.50) scale(1,1.04)" font-size="37.5" text-anchor="end" fill="#000">5</text><text transform="translate(116.00,1324.50) scale(1,1.04)" font-size="37.5" text-anchor="middle" fill="#000">54</text><text transform="translate(307.20,1326.20) scale(1,1.04)" font-size="37.5" text-anchor="middle" fill="#000">58</text><text transform="translate(498.40,1324.50) scale(1,1.04)" font-size="37.5" text-anchor="middle" fill="#000">62</text><text transform="translate(689.60,1324.50) scale(1,1.04)" font-size="37.5" text-anchor="middle" fill="#000">66</text><text transform="translate(880.80,1324.50) scale(1,1.04)" font-size="37.5" text-anchor="middle" fill="#000">70</text><text transform="translate(435.50,1371.00) scale(1,1.04)" font-size="44"><tspan font-style="italic">w</tspan><tspan font-size="27" dy="10.5">p</tspan><tspan dy="-10.5"> (%)</tspan></text><text transform="translate(37.80,1115.00) rotate(-90) scale(1,1.04)" font-size="37.6" text-anchor="middle">Length scale (nm)</text><text transform="translate(134.50,999.30) scale(1,1.04)" font-size="37.5" font-weight="bold"><tspan font-style="italic">i</tspan><tspan font-size="23.5" dy="8.5">DA</tspan><tspan dy="-8.5"> = 50%</tspan></text><text transform="translate(659.00,994.50) scale(1,1.04)" font-size="37.5" text-anchor="middle" fill="#000">49</text><text transform="translate(659.00,1029.60) scale(1,1.04)" font-size="37.5" text-anchor="middle" fill="#000">66</text><g transform="translate(659.00,1088.30) scale(1,1.04)"><text font-size="37.5" text-anchor="middle" fill="#000"> 24</text><path transform="translate(-31.28,0) scale(0.01831,-0.01831)" d="M583 0L583 1102L223 846L223 1016L620 1409L763 1409L763 0Z" fill="#000"/></g><g transform="translate(659.00,1119.30) scale(1,1.04)"><text font-size="37.5" text-anchor="middle" fill="#000"> 98</text><path transform="translate(-31.28,0) scale(0.01831,-0.01831)" d="M583 0L583 1102L223 846L223 1016L620 1409L763 1409L763 0Z" fill="#000"/></g><text transform="translate(659.00,1170.60) scale(1,1.04)" font-size="37.5" text-anchor="middle" font-style="italic" fill="#000">N</text><path d="M895.7 974.0 C903.7 973.5 910.4 974.0 911.4 977.0 L911.4 1053.7 C911.4 1055.7 913.4 1056.7 917.4 1056.7 L936.6 1056.7 M917.4 1056.7 C913.4 1056.7 911.4 1057.7 911.4 1059.7 L911.4 1135.5 C910.4 1138.5 903.7 1139.0 895.7 1138.5" fill="none" stroke="#ab72e0" stroke-width="2.2"/><text transform="translate(953.30,1069.50) scale(1,1.04)" font-size="37.5" fill="#ab72e0"><tspan font-style="italic">d</tspan><tspan font-size="25" dy="8">f</tspan></text><path d="M895.7 1211.6 C903.7 1211.1 910.4 1211.6 911.4 1214.6 L911.4 1233.0 C911.4 1235.0 913.4 1236.0 917.4 1236.0 L934.9 1236.0 M917.4 1236.0 C913.4 1236.0 911.4 1237.0 911.4 1239.0 L911.4 1257.4 C910.4 1260.4 903.7 1260.9 895.7 1260.4" fill="none" stroke="#069bff" stroke-width="2.2"/><text transform="translate(946.00,1250.60) scale(1,1.04)" font-size="37.5" fill="#069bff"><tspan font-style="italic">d</tspan><tspan font-size="25" dy="8">m</tspan></text><line x1="114.8" y1="1431.6" x2="880.2" y2="1431.6" stroke="#000" stroke-width="3.0"/><line x1="114.8" y1="1916.0" x2="880.2" y2="1916.0" stroke="#000" stroke-width="3.0"/><line x1="114.8" y1="1431.6" x2="114.8" y2="1916.0" stroke="#000" stroke-width="3.3"/><line x1="877.90" y1="1432.6" x2="877.90" y2="1915.0" stroke="#d4d4d4" stroke-width="1.4"/><line x1="880.2" y1="1431.6" x2="880.2" y2="1916.0" stroke="#000" stroke-width="2.4749999999999996"/><line x1="114.80" y1="1916.0" x2="114.80" y2="1928.0" stroke="#000" stroke-width="2.6"/><line x1="114.80" y1="1431.6" x2="114.80" y2="1419.6" stroke="#000" stroke-width="2.6"/><line x1="184.42" y1="1916.0" x2="184.42" y2="1922.0" stroke="#000" stroke-width="2.4"/><line x1="184.42" y1="1431.6" x2="184.42" y2="1425.6" stroke="#000" stroke-width="2.4"/><line x1="254.04" y1="1916.0" x2="254.04" y2="1928.0" stroke="#000" stroke-width="2.6"/><line x1="254.04" y1="1431.6" x2="254.04" y2="1419.6" stroke="#000" stroke-width="2.6"/><line x1="323.66" y1="1916.0" x2="323.66" y2="1922.0" stroke="#000" stroke-width="2.4"/><line x1="323.66" y1="1431.6" x2="323.66" y2="1425.6" stroke="#000" stroke-width="2.4"/><line x1="393.28" y1="1916.0" x2="393.28" y2="1928.0" stroke="#000" stroke-width="2.6"/><line x1="393.28" y1="1431.6" x2="393.28" y2="1419.6" stroke="#000" stroke-width="2.6"/><line x1="462.90" y1="1916.0" x2="462.90" y2="1922.0" stroke="#000" stroke-width="2.4"/><line x1="462.90" y1="1431.6" x2="462.90" y2="1425.6" stroke="#000" stroke-width="2.4"/><line x1="532.52" y1="1916.0" x2="532.52" y2="1928.0" stroke="#000" stroke-width="2.6"/><line x1="532.52" y1="1431.6" x2="532.52" y2="1419.6" stroke="#000" stroke-width="2.6"/><line x1="602.14" y1="1916.0" x2="602.14" y2="1922.0" stroke="#000" stroke-width="2.4"/><line x1="602.14" y1="1431.6" x2="602.14" y2="1425.6" stroke="#000" stroke-width="2.4"/><line x1="671.76" y1="1916.0" x2="671.76" y2="1928.0" stroke="#000" stroke-width="2.6"/><line x1="671.76" y1="1431.6" x2="671.76" y2="1419.6" stroke="#000" stroke-width="2.6"/><line x1="741.38" y1="1916.0" x2="741.38" y2="1922.0" stroke="#000" stroke-width="2.4"/><line x1="741.38" y1="1431.6" x2="741.38" y2="1425.6" stroke="#000" stroke-width="2.4"/><line x1="811.00" y1="1916.0" x2="811.00" y2="1928.0" stroke="#000" stroke-width="2.6"/><line x1="811.00" y1="1431.6" x2="811.00" y2="1419.6" stroke="#000" stroke-width="2.6"/><line x1="880.62" y1="1916.0" x2="880.62" y2="1922.0" stroke="#000" stroke-width="2.4"/><line x1="880.62" y1="1431.6" x2="880.62" y2="1425.6" stroke="#000" stroke-width="2.4"/><line x1="114.8" y1="1916.00" x2="102.8" y2="1916.00" stroke="#000" stroke-width="2.4"/><line x1="114.8" y1="1867.56" x2="108.8" y2="1867.56" stroke="#000" stroke-width="2.4"/><line x1="114.8" y1="1819.12" x2="102.8" y2="1819.12" stroke="#000" stroke-width="2.4"/><line x1="114.8" y1="1770.68" x2="108.8" y2="1770.68" stroke="#000" stroke-width="2.4"/><line x1="114.8" y1="1722.24" x2="102.8" y2="1722.24" stroke="#000" stroke-width="2.4"/><line x1="114.8" y1="1673.80" x2="108.8" y2="1673.80" stroke="#000" stroke-width="2.4"/><line x1="114.8" y1="1625.36" x2="102.8" y2="1625.36" stroke="#000" stroke-width="2.4"/><line x1="114.8" y1="1576.92" x2="108.8" y2="1576.92" stroke="#000" stroke-width="2.4"/><line x1="114.8" y1="1528.48" x2="102.8" y2="1528.48" stroke="#000" stroke-width="2.4"/><line x1="114.8" y1="1480.04" x2="108.8" y2="1480.04" stroke="#000" stroke-width="2.4"/><line x1="114.8" y1="1431.60" x2="102.8" y2="1431.60" stroke="#000" stroke-width="2.4"/><line x1="880.2" y1="1916.00" x2="892.2" y2="1916.00" stroke="#000" stroke-width="2.4"/><line x1="880.2" y1="1867.56" x2="886.2" y2="1867.56" stroke="#000" stroke-width="2.4"/><line x1="880.2" y1="1819.12" x2="892.2" y2="1819.12" stroke="#000" stroke-width="2.4"/><line x1="880.2" y1="1770.68" x2="886.2" y2="1770.68" stroke="#000" stroke-width="2.4"/><line x1="880.2" y1="1722.24" x2="892.2" y2="1722.24" stroke="#000" stroke-width="2.4"/><line x1="880.2" y1="1673.80" x2="886.2" y2="1673.80" stroke="#000" stroke-width="2.4"/><line x1="880.2" y1="1625.36" x2="892.2" y2="1625.36" stroke="#000" stroke-width="2.4"/><line x1="880.2" y1="1576.92" x2="886.2" y2="1576.92" stroke="#000" stroke-width="2.4"/><line x1="880.2" y1="1528.48" x2="892.2" y2="1528.48" stroke="#000" stroke-width="2.4"/><line x1="880.2" y1="1480.04" x2="886.2" y2="1480.04" stroke="#000" stroke-width="2.4"/><line x1="880.2" y1="1431.60" x2="892.2" y2="1431.60" stroke="#000" stroke-width="2.4"/><line x1="115.30" y1="1916.00" x2="469.0" y2="1443.2" stroke="#878787" stroke-width="2.4" stroke-dasharray="16 15.8"/><rect x="305" y="1447" width="262" height="70" fill="#fff"/><circle cx="209.83" cy="1784.40" r="11.47" fill="#fff" stroke="#069bff" stroke-width="3.0"/><circle cx="285.37" cy="1794.70" r="11.47" fill="#fff" stroke="#069bff" stroke-width="3.0"/><circle cx="313.22" cy="1786.00" r="11.47" fill="#fff" stroke="#069bff" stroke-width="3.0"/><circle cx="574.29" cy="1792.40" r="11.47" fill="#fff" stroke="#069bff" stroke-width="3.0"/><circle cx="723.98" cy="1789.60" r="11.47" fill="#fff" stroke="#069bff" stroke-width="3.0"/><line x1="223.70" y1="1786.29" x2="271.50" y2="1792.81" stroke="#069bff" stroke-width="2.2" stroke-dasharray="4 5.5"/><line x1="298.73" y1="1790.53" x2="299.85" y2="1790.17" stroke="#069bff" stroke-width="2.2" stroke-dasharray="4 5.5"/><line x1="327.21" y1="1786.34" x2="560.30" y2="1792.06" stroke="#069bff" stroke-width="2.2" stroke-dasharray="4 5.5"/><line x1="588.29" y1="1792.14" x2="709.98" y2="1789.86" stroke="#069bff" stroke-width="2.2" stroke-dasharray="4 5.5"/><rect x="224.88" y="1770.45" width="23.50" height="23.50" fill="#fff" stroke="#069bff" stroke-width="3.0"/><rect x="235.33" y="1775.65" width="23.50" height="23.50" fill="#fff" stroke="#069bff" stroke-width="3.0"/><rect x="273.62" y="1773.25" width="23.50" height="23.50" fill="#fff" stroke="#069bff" stroke-width="3.0"/><rect x="339.76" y="1768.25" width="23.50" height="23.50" fill="#fff" stroke="#069bff" stroke-width="3.0"/><rect x="524.25" y="1773.65" width="23.50" height="23.50" fill="#fff" stroke="#069bff" stroke-width="3.0"/><rect x="767.92" y="1770.15" width="23.50" height="23.50" fill="#fff" stroke="#069bff" stroke-width="3.0"/><line x1="261.05" y1="1786.52" x2="271.40" y2="1785.88" stroke="#069bff" stroke-width="2.2" stroke-dasharray="4 5.5"/><line x1="299.33" y1="1783.94" x2="337.55" y2="1781.06" stroke="#069bff" stroke-width="2.2" stroke-dasharray="4 5.5"/><line x1="365.50" y1="1780.41" x2="522.01" y2="1784.99" stroke="#069bff" stroke-width="2.2" stroke-dasharray="4 5.5"/><line x1="550.00" y1="1785.20" x2="765.67" y2="1782.10" stroke="#069bff" stroke-width="2.2" stroke-dasharray="4 5.5"/><path d="M245.34 1783.05L259.59 1807.73L231.09 1807.73Z" fill="#fff" stroke="#069bff" stroke-width="3.0" stroke-linejoin="miter"/><path d="M288.85 1773.55L303.10 1798.23L274.60 1798.23Z" fill="#fff" stroke="#069bff" stroke-width="3.0" stroke-linejoin="miter"/><path d="M344.55 1778.55L358.80 1803.23L330.30 1803.23Z" fill="#fff" stroke="#069bff" stroke-width="3.0" stroke-linejoin="miter"/><path d="M546.44 1775.55L560.69 1800.23L532.19 1800.23Z" fill="#fff" stroke="#069bff" stroke-width="3.0" stroke-linejoin="miter"/><path d="M804.04 1774.05L818.29 1798.73L789.79 1798.73Z" fill="#fff" stroke="#069bff" stroke-width="3.0" stroke-linejoin="miter"/><line x1="260.97" y1="1796.09" x2="273.22" y2="1793.41" stroke="#069bff" stroke-width="2.2" stroke-dasharray="4 5.5"/><line x1="304.79" y1="1791.43" x2="328.61" y2="1793.57" stroke="#069bff" stroke-width="2.2" stroke-dasharray="4 5.5"/><line x1="360.54" y1="1794.76" x2="530.45" y2="1792.24" stroke="#069bff" stroke-width="2.2" stroke-dasharray="4 5.5"/><line x1="562.44" y1="1791.91" x2="788.04" y2="1790.59" stroke="#069bff" stroke-width="2.2" stroke-dasharray="4 5.5"/><line x1="305.23" y1="1574.59" x2="331.64" y2="1571.51" stroke="#ee3b43" stroke-width="2.3"/><line x1="371.42" y1="1571.09" x2="516.09" y2="1584.81" stroke="#ee3b43" stroke-width="2.3"/><line x1="555.35" y1="1581.64" x2="760.32" y2="1528.06" stroke="#ee3b43" stroke-width="2.3"/><line x1="333.17" y1="1639.05" x2="554.34" y2="1654.05" stroke="#ff6600" stroke-width="2.3"/><line x1="594.09" y1="1658.23" x2="704.18" y2="1673.97" stroke="#ff6600" stroke-width="2.3"/><line x1="308.69" y1="1651.49" x2="324.70" y2="1653.51" stroke="#ab72e0" stroke-width="2.3"/><line x1="364.02" y1="1660.55" x2="526.97" y2="1698.65" stroke="#ab72e0" stroke-width="2.3"/><line x1="566.42" y1="1704.19" x2="784.06" y2="1715.01" stroke="#ab72e0" stroke-width="2.3"/><rect x="273.62" y="1565.15" width="23.50" height="23.50" fill="#fff" stroke="#ee3b43" stroke-width="3.2"/><rect x="339.76" y="1557.45" width="23.50" height="23.50" fill="#fff" stroke="#ee3b43" stroke-width="3.2"/><rect x="524.25" y="1574.95" width="23.50" height="23.50" fill="#fff" stroke="#ee3b43" stroke-width="3.2"/><rect x="767.92" y="1511.25" width="23.50" height="23.50" fill="#fff" stroke="#ee3b43" stroke-width="3.2"/><circle cx="285.37" cy="1626.50" r="12.75" fill="#fff" stroke="#ff6600" stroke-width="3.2"/><circle cx="313.22" cy="1637.70" r="12.75" fill="#fff" stroke="#ff6600" stroke-width="3.2"/><circle cx="574.29" cy="1655.40" r="12.75" fill="#fff" stroke="#ff6600" stroke-width="3.2"/><circle cx="723.98" cy="1676.80" r="12.75" fill="#fff" stroke="#ff6600" stroke-width="3.2"/><path d="M288.85 1631.68L303.85 1657.66L273.85 1657.66Z" fill="#fff" stroke="#ab72e0" stroke-width="3.2" stroke-linejoin="miter"/><path d="M344.55 1638.68L359.55 1664.66L329.55 1664.66Z" fill="#fff" stroke="#ab72e0" stroke-width="3.2" stroke-linejoin="miter"/><path d="M546.44 1685.88L561.44 1711.86L531.44 1711.86Z" fill="#fff" stroke="#ab72e0" stroke-width="3.2" stroke-linejoin="miter"/><path d="M804.04 1698.68L819.04 1724.66L789.04 1724.66Z" fill="#fff" stroke="#ab72e0" stroke-width="3.2" stroke-linejoin="miter"/><text transform="translate(-2.50,1432.00) scale(1,1.0)" font-size="63" text-anchor="start" fill="#000">d</text><text transform="translate(94.00,1446.20) scale(1,1.04)" font-size="37.5" text-anchor="end" fill="#000">25</text><text transform="translate(94.00,1543.08) scale(1,1.04)" font-size="37.5" text-anchor="end" fill="#000">20</text><g transform="translate(94.00,1639.96) scale(1,1.04)"><text font-size="37.5" text-anchor="end" fill="#000"> 5</text><path transform="translate(-41.71,0) scale(0.01831,-0.01831)" d="M583 0L583 1102L223 846L223 1016L620 1409L763 1409L763 0Z" fill="#000"/></g><g transform="translate(94.00,1736.84) scale(1,1.04)"><text font-size="37.5" text-anchor="end" fill="#000"> 0</text><path transform="translate(-41.71,0) scale(0.01831,-0.01831)" d="M583 0L583 1102L223 846L223 1016L620 1409L763 1409L763 0Z" fill="#000"/></g><text transform="translate(94.00,1833.72) scale(1,1.04)" font-size="37.5" text-anchor="end" fill="#000">5</text><text transform="translate(94.00,1930.60) scale(1,1.04)" font-size="37.5" text-anchor="end" fill="#000">0</text><text transform="translate(114.80,1964.00) scale(1,1.04)" font-size="37.5" text-anchor="middle" fill="#000">0</text><text transform="translate(254.04,1964.00) scale(1,1.04)" font-size="37.5" text-anchor="middle" fill="#000">40</text><text transform="translate(393.28,1964.00) scale(1,1.04)" font-size="37.5" text-anchor="middle" fill="#000">80</text><g transform="translate(532.52,1964.00) scale(1,1.04)"><text font-size="37.5" text-anchor="middle" fill="#000"> 20</text><path transform="translate(-31.28,0) scale(0.01831,-0.01831)" d="M583 0L583 1102L223 846L223 1016L620 1409L763 1409L763 0Z" fill="#000"/></g><g transform="translate(671.76,1964.00) scale(1,1.04)"><text font-size="37.5" text-anchor="middle" fill="#000"> 60</text><path transform="translate(-31.28,0) scale(0.01831,-0.01831)" d="M583 0L583 1102L223 846L223 1016L620 1409L763 1409L763 0Z" fill="#000"/></g><text transform="translate(811.00,1964.00) scale(1,1.04)" font-size="37.5" text-anchor="middle" fill="#000">200</text><text transform="translate(497.00,2009.50) scale(1,1.04)" font-size="44" text-anchor="middle" font-style="italic" fill="#000">N</text><text transform="translate(37.80,1670.60) rotate(-90) scale(1,1.04)" font-size="37.6" text-anchor="middle">Length scale (nm)</text><text transform="translate(314.50,1491.60) scale(1,1.04)" font-size="37.5" text-anchor="start" fill="#000">Contour length</text><text transform="translate(937.5,1468.2) scale(1,1.04)" font-size="37.5" font-weight="bold"><tspan font-style="italic">i</tspan><tspan font-size="23.5" dy="8.5">DA</tspan></text><text transform="translate(922.00,1537.80) scale(1,1.04)" font-size="37.5" text-anchor="start" fill="#000">60%</text><text transform="translate(922.00,1665.50) scale(1,1.04)" font-size="37.5" text-anchor="start" fill="#000">55%</text><text transform="translate(922.00,1729.80) scale(1,1.04)" font-size="37.5" text-anchor="start" fill="#000">50%</text></svg></body></html>
